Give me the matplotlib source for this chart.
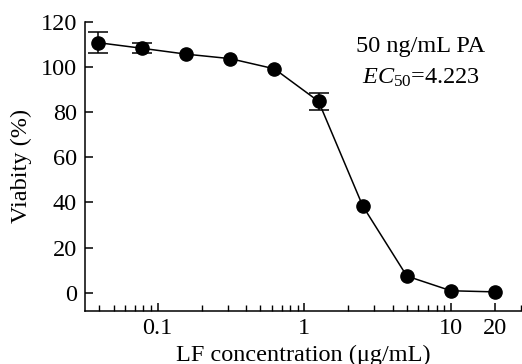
import matplotlib
matplotlib.use('Agg')
import matplotlib.pyplot as plt
import numpy as np
from matplotlib.ticker import FixedLocator, LogLocator, NullFormatter

# data
lf_conc = [0.039, 0.078, 0.156, 0.3125, 0.625, 1.25, 2.5, 5, 10, 20]
viability = [110.8, 108.3, 105.7, 103.7, 99.2, 84.8, 38.5, 7.4, 0.9, 0.4]
viab_err = [4.6, 2.3, 0, 0, 0, 3.9, 0, 0, 0, 0]
xtick_vals = [0.1, 1, 10, 20]
xtick_labels = ['0.1', '1', '10', '20']
ytick_vals = [0, 20, 40, 60, 80, 100, 120]

plt.rcParams['font.family'] = ['Liberation Serif', 'DejaVu Serif']
plt.rcParams['mathtext.fontset'] = 'custom'
plt.rcParams['mathtext.rm'] = 'Liberation Serif'
plt.rcParams['mathtext.it'] = 'Liberation Serif:italic'

FS = 17.5
fig = plt.figure(figsize=(5.22, 3.64), dpi=100)
ax = fig.add_axes([0.163, 0.146, 0.835, 0.794])

# error bars only where they show outside the markers
eb_x = [x for x, e in zip(lf_conc, viab_err) if e > 0]
eb_y = [y for y, e in zip(viability, viab_err) if e > 0]
eb_e = [e for e in viab_err if e > 0]
ax.errorbar(eb_x, eb_y, yerr=eb_e, fmt='none', ecolor='black',
            elinewidth=1.1, capsize=7.5, capthick=1.1)
ax.plot(lf_conc, viability, color='black', marker='o', markersize=9.5,
        linewidth=1.1)

ax.set_xscale('log')
ax.set_xlim(0.032, 30)
ax.set_ylim(-8, 120)

ax.xaxis.set_major_locator(FixedLocator(xtick_vals))
ax.set_xticklabels(xtick_labels)
ax.xaxis.set_minor_locator(LogLocator(base=10, subs=np.arange(2, 10)))
ax.xaxis.set_minor_formatter(NullFormatter())
ax.set_yticks(ytick_vals)

ax.spines['top'].set_visible(False)
ax.spines['right'].set_visible(False)
ax.spines['left'].set_bounds(-8, 120)
for s in ['left', 'bottom']:
    ax.spines[s].set_linewidth(1.1)

ax.tick_params(axis='both', which='major', direction='in', length=6,
               width=1.1, labelsize=FS)
ax.tick_params(axis='both', which='minor', direction='in', length=4, width=1.0)
ax.tick_params(axis='x', which='major', pad=5)
ax.tick_params(axis='y', which='major', pad=6)

ax.set_xlabel('LF concentration (μg/mL)', fontsize=FS, labelpad=4)
ax.set_ylabel('Viabity (%)', fontsize=FS, labelpad=6)

ax.text(0.77, 0.915, '50 ng/mL PA', transform=ax.transAxes, fontsize=FS,
        ha='center', va='center')
ax.text(0.77, 0.805, r'$\mathit{EC}_{50}$=4.223', transform=ax.transAxes,
        fontsize=FS, ha='center', va='center')

plt.savefig('out.png', dpi=100)
plt.close()
